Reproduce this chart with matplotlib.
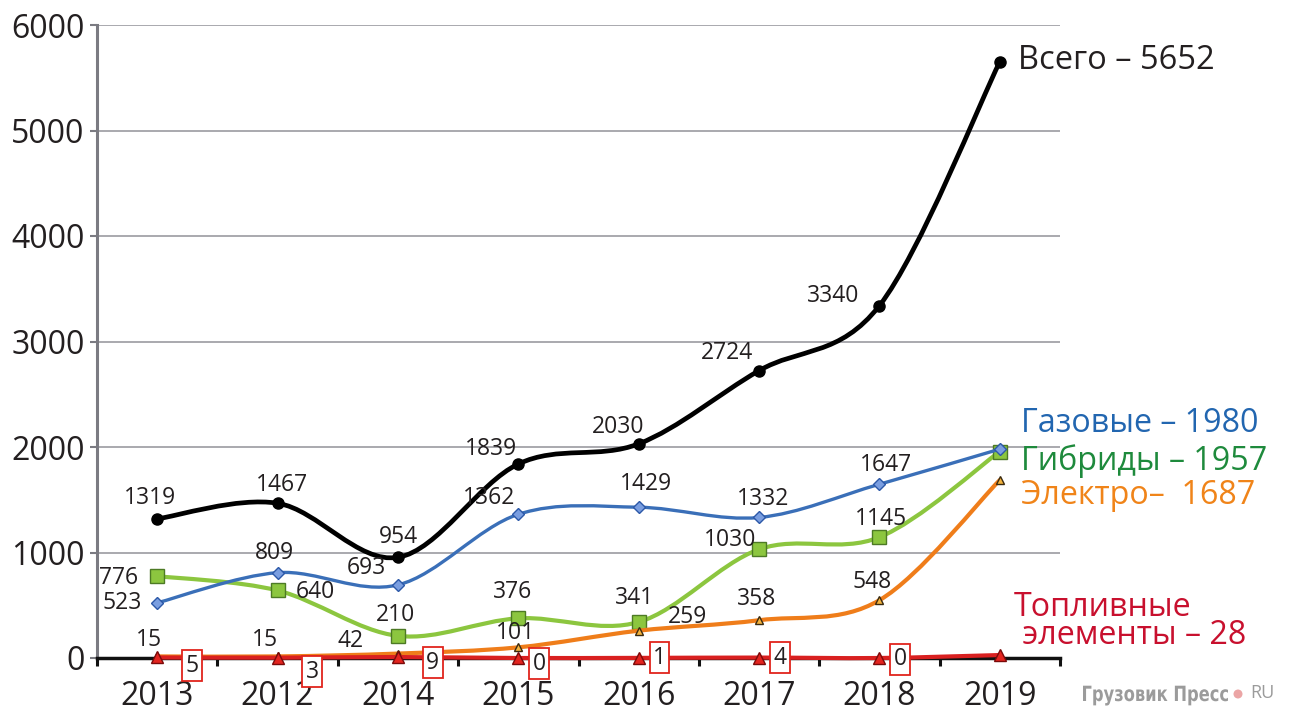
import matplotlib
matplotlib.use("Agg")
import matplotlib.pyplot as plt
from matplotlib.path import Path
from matplotlib.patches import PathPatch, Ellipse
from matplotlib.textpath import TextPath
from matplotlib.font_manager import FontProperties
from matplotlib.transforms import Affine2D
import numpy as np

# ---------------- data ----------------
years = ["2013", "2012", "2014", "2015", "2016", "2017", "2018", "2019"]
total = [1319, 1467, 954, 1839, 2030, 2724, 3340, 5652]
gas = [523, 809, 693, 1362, 1429, 1332, 1647, 1980]
hybrid = [776, 640, 210, 376, 341, 1030, 1145, 1957]
electro = [15, 15, 42, 101, 259, 358, 548, 1687]
fuelcell = [5, 3, 9, 0, 1, 4, 0, 28]

y_ticks = [0, 1000, 2000, 3000, 4000, 5000, 6000]

# label offsets (points) per point -- style only
off_total = [(-5, 15), (3, 13), (0, 15), (-20, 11), (-15, 12), (-23, 13), (-33, 7), None]
off_gas = [(-25, 0), (-2, 14), (-23, 12), (-21, 12), (5, 17), (3, 13), (5, 14), None]
off_hyb = [(-28, -1), (27, -1), (-2, 15), (-4, 19), (-3, 17), (-21, 7), (1, 13), None]
off_ele = [(-6, 12), (-9, 12), (-34, 9), (-2, 10), (35, 10), (-2, 15), (-5, 13), None]
off_fc = [(25, -6), (25, -10), (25, -4), (15, -4), (15, 0), (15, 0), (15, -1), None]

FONT = ["Open Sans", "DejaVu Sans"]
plt.rcParams["font.family"] = FONT

W, H = 1300, 721
fig = plt.figure(figsize=(W / 100, H / 100), dpi=100)
ax = fig.add_axes([97 / W, 1 - 658 / H, (1060 - 97) / W, (658 - 25) / H])

x = np.arange(len(years))


def smooth_path(xs, ys):
    xs = np.asarray(xs, float)
    ys = np.asarray(ys, float)
    n = len(xs)
    verts = [(xs[0], ys[0])]
    codes = [Path.MOVETO]
    for i in range(n - 1):
        i0 = max(i - 1, 0)
        i3 = min(i + 2, n - 1)
        c1 = (xs[i] + (xs[i + 1] - xs[i0]) / 6, ys[i] + (ys[i + 1] - ys[i0]) / 6)
        c2 = (xs[i + 1] - (xs[i3] - xs[i]) / 6, ys[i + 1] - (ys[i3] - ys[i]) / 6)
        verts += [c1, c2, (xs[i + 1], ys[i + 1])]
        codes += [Path.CURVE4] * 3
    return Path(verts, codes)


def draw_series(vals, color, lw, marker, ms, mfc, mec, z):
    p = smooth_path(x, vals)
    ax.add_patch(PathPatch(p, facecolor="none", edgecolor=color, lw=lw, zorder=z,
                           capstyle="round", joinstyle="round", clip_on=False))
    ax.plot(x, vals, linestyle="none", marker=marker, ms=ms, mfc=mfc, mec=mec,
            mew=1.0, zorder=z + 0.5, clip_on=False)


# grid
for v in y_ticks[1:]:
    ax.axhline(v, color="#a9a9ae", lw=1.4, zorder=1)

draw_series(hybrid, "#8cc63f", 3.0, "s", 10, "#8cc63f", "#4d7a25", 3)
draw_series(electro, "#ef7d1a", 3.0, "^", 6, "#f3b33d", "#3a2a10", 4)
draw_series(gas, "#3a6fb8", 2.4, "D", 6.5, "#7a9ee0", "#2c58a8", 5)
draw_series(total, "#000000", 3.4, "o", 8, "#000000", "#000000", 6)
draw_series(fuelcell, "#d92020", 3.0, "^", 9, "#e3241f", "#7a0a0a", 7)

lab_kw = dict(fontsize=16.5, color="#231f20", ha="center", va="center",
              textcoords="offset points", zorder=10)


def label_series(vals, offs):
    for i, (v, o) in enumerate(zip(vals, offs)):
        if o is None:
            continue
        ax.annotate(str(v), (x[i], v), xytext=o, **lab_kw)


label_series(total, off_total)
label_series(gas, off_gas)
label_series(hybrid, off_hyb)
label_series(electro, off_ele)

for i, (v, o) in enumerate(zip(fuelcell, off_fc)):
    if o is None:
        continue
    ax.annotate(str(v), (x[i], v), xytext=o, textcoords="offset points",
                fontsize=16.5, color="#231f20", ha="center", va="center", zorder=11,
                bbox=dict(boxstyle="square,pad=0.15", fc="white", ec="#e0241c", lw=1.3))

# series names at the end
ax.annotate(f"Всего – {total[-1]}", (x[-1], total[-1]), xytext=(13, 1),
            textcoords="offset points", fontsize=23.5, color="#231f20", va="center",
            ha="left", annotation_clip=False)
fig.text(1021 / W, 1 - 424 / H, f"Газовые – {gas[-1]}", fontsize=23.2,
         color="#2266b0", va="center", ha="left")
fig.text(1021 / W, 1 - 461 / H, f"Гибриды – {hybrid[-1]}", fontsize=23.2,
         color="#1e8a3c", va="center", ha="left")
fig.text(1021 / W, 1 - 496 / H, f"Электро–  {electro[-1]}", fontsize=23.2,
         color="#f08419", va="center", ha="left")
fig.text(1014 / W, 1 - 621 / H, f"Топливные\n элементы – {fuelcell[-1]}", fontsize=23.2,
         color="#c8102e", va="center", ha="left", linespacing=0.8)

# watermark (condensed bold, drawn as a text path)
wm = "Грузовик Пресс"
tp = TextPath((0, 0), wm, size=21, prop=FontProperties(family="DejaVu Sans", weight="bold"))
bb = tp.get_extents()
sx = 145 / bb.width
tr = Affine2D().translate(-bb.x0, 0).scale(sx, 1.0).translate(1083, H - 701)
fig.add_artist(PathPatch(tr.transform_path(tp), fc="#9b9b9b", ec="none",
                         transform=None))
fig.add_artist(Ellipse((1238 / W, 1 - 694 / H), 9 / W, 9 / H, transform=fig.transFigure,
                       fc="#eba5a5", ec="none"))
fig.text(1250 / W, 1 - 693 / H, "RU", fontsize=13, color="#9b9b9b",
         va="center", ha="left")

# axes styling
ax.set_xlim(-0.5, len(years) - 0.5)
ax.set_ylim(0, 6000)
ax.set_yticks(y_ticks)
ax.set_yticklabels([str(v) for v in y_ticks])
ax.set_xticks(x)
ax.set_xticklabels(years)
ax.set_xticks(np.arange(-0.5, len(years)), minor=True)
ax.tick_params(axis="x", which="major", length=0, pad=16, labelsize=23, labelcolor="#231f20")
ax.tick_params(axis="x", which="minor", length=6, width=2.2, color="#111111", direction="out")
ax.tick_params(axis="y", length=5, width=1.5, color="#7b7b82", pad=4, labelsize=23,
               labelcolor="#231f20")

for s in ["top", "right"]:
    ax.spines[s].set_visible(False)
ax.spines["left"].set_color("#7b7b82")
ax.spines["left"].set_linewidth(2.2)
ax.spines["bottom"].set_color("#111111")
ax.spines["bottom"].set_linewidth(2.5)
ax.spines["bottom"].set_zorder(2.5)
ax.set_facecolor("white")

fig.savefig("out.png", dpi=100, facecolor="white")
